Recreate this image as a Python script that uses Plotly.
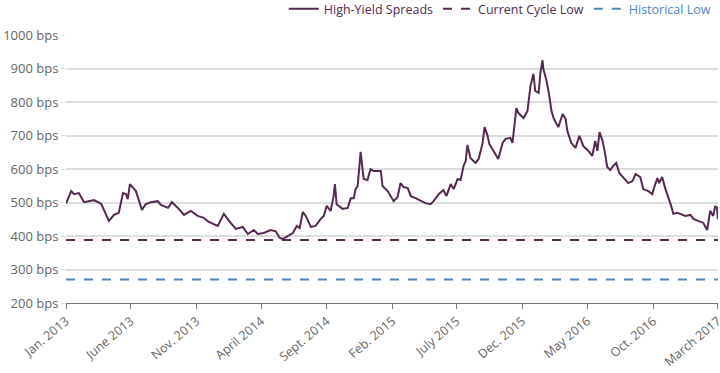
import plotly.graph_objects as go

dates = [
    "2013-01-01", "2013-01-13", "2013-01-20", "2013-01-31", "2013-02-12", "2013-03-07", "2013-03-24",
    "2013-04-11", "2013-04-23", "2013-05-04", "2013-05-14", "2013-05-21", "2013-05-25", "2013-05-30",
    "2013-06-13", "2013-06-27", "2013-07-06", "2013-07-18", "2013-08-03", "2013-08-10", "2013-08-27",
    "2013-09-05", "2013-09-21", "2013-10-03", "2013-10-19", "2013-11-04", "2013-11-18", "2013-11-30",
    "2013-12-21", "2014-01-04", "2014-01-20", "2014-02-01", "2014-02-17", "2014-03-01", "2014-03-15",
    "2014-03-24", "2014-04-07", "2014-04-23", "2014-05-05", "2014-05-14", "2014-05-21", "2014-06-02",
    "2014-06-14", "2014-06-23", "2014-06-30", "2014-07-07", "2014-07-14", "2014-07-26", "2014-08-06",
    "2014-08-18", "2014-08-25", "2014-09-01", "2014-09-10", "2014-09-17", "2014-09-20", "2014-09-24",
    "2014-10-08", "2014-10-20", "2014-10-27", "2014-11-03", "2014-11-07", "2014-11-12", "2014-11-19",
    "2014-11-26", "2014-12-05", "2014-12-12", "2014-12-19", "2014-12-29", "2015-01-05", "2015-01-09",
    "2015-01-21", "2015-02-04", "2015-02-13", "2015-02-20", "2015-02-27", "2015-03-09", "2015-03-16",
    "2015-03-27", "2015-04-08", "2015-04-19", "2015-05-01", "2015-05-08", "2015-05-20", "2015-05-31",
    "2015-06-07", "2015-06-17", "2015-06-24", "2015-07-03", "2015-07-10", "2015-07-17", "2015-07-22",
    "2015-07-26", "2015-08-02", "2015-08-14", "2015-08-21", "2015-08-30", "2015-09-04", "2015-09-11",
    "2015-09-15", "2015-09-25", "2015-10-06", "2015-10-16", "2015-10-23", "2015-11-03", "2015-11-08",
    "2015-11-13", "2015-11-17", "2015-11-22", "2015-11-29", "2015-12-04", "2015-12-13", "2015-12-15",
    "2015-12-20", "2015-12-27", "2015-12-31", "2016-01-08", "2016-01-12", "2016-01-17", "2016-01-19",
    "2016-01-26", "2016-01-31", "2016-02-07", "2016-02-12", "2016-02-19", "2016-02-23", "2016-03-04",
    "2016-03-11", "2016-03-15", "2016-03-24", "2016-04-03", "2016-04-12", "2016-04-21", "2016-05-03",
    "2016-05-12", "2016-05-19", "2016-05-24", "2016-05-29", "2016-06-05", "2016-06-09", "2016-06-16",
    "2016-06-23", "2016-06-30", "2016-07-07", "2016-07-14", "2016-07-24", "2016-08-04", "2016-08-14",
    "2016-08-21", "2016-09-01", "2016-09-08", "2016-09-20", "2016-09-29", "2016-10-06", "2016-10-11",
    "2016-10-15", "2016-10-22", "2016-10-29", "2016-11-05", "2016-11-12", "2016-11-17", "2016-11-26",
    "2016-12-03", "2016-12-15", "2016-12-27", "2017-01-03", "2017-01-14", "2017-01-26", "2017-02-04",
    "2017-02-11", "2017-02-18", "2017-02-23", "2017-02-27", "2017-03-01",
]
spreads = [
    497, 534, 525, 528, 501, 507, 496,
    445, 463, 469, 528, 525, 510, 555,
    534, 478, 495, 501, 504, 493, 484,
    501, 481, 463, 475, 460, 454, 442,
    430, 466, 439, 421, 427, 406, 418,
    406, 409, 418, 414, 395, 391, 400,
    409, 430, 424, 472, 460, 427, 430,
    451, 460, 490, 475, 519, 555, 495,
    481, 484, 513, 513, 540, 549, 651,
    570, 567, 600, 594, 594, 594, 549,
    534, 504, 516, 558, 546, 543, 519,
    513, 504, 498, 495, 504, 525, 537,
    519, 555, 540, 570, 567, 609, 624,
    672, 633, 618, 630, 675, 725, 699,
    675, 654, 630, 678, 690, 693, 678,
    734, 782, 767, 758, 752, 773, 797,
    848, 884, 833, 827, 884, 925, 899,
    866, 833, 773, 752, 734, 725, 764,
    749, 713, 678, 663, 699, 669, 654,
    639, 684, 654, 710, 684, 660, 606,
    597, 609, 618, 588, 573, 558, 564,
    585, 576, 540, 534, 525, 555, 573,
    558, 576, 543, 519, 490, 466, 469,
    466, 460, 463, 451, 445, 439, 418,
    475, 460, 490, 484, 451,
]

current_cycle_low = 388
historical_low = 270

tick_dates = ["2013-01-01", "2013-06-01", "2013-11-01", "2014-04-01", "2014-09-01", "2015-02-01",
              "2015-07-01", "2015-12-01", "2016-05-01", "2016-10-01", "2017-03-01"]
tick_labels = ["Jan. 2013", "June 2013", "Nov. 2013", "April 2014", "Sept. 2014", "Feb. 2015",
               "July 2015", "Dec. 2015", "May 2016", "Oct. 2016", "March 2017"]
y_ticks = [200, 300, 400, 500, 600, 700, 800, 900, 1000]
y_labels = [f"{v} bps" for v in y_ticks]

purple = "#542a50"
blue = "#4f86c6"

fig = go.Figure()
fig.add_trace(go.Scatter(
    x=dates, y=spreads, mode="lines",
    line=dict(color=purple, width=2),
    name=f"<span style='color:{purple}'>High-Yield Spreads</span>",
))
fig.add_trace(go.Scatter(
    x=[dates[0], dates[-1]], y=[current_cycle_low, current_cycle_low], mode="lines",
    line=dict(color=purple, width=2, dash="dash"),
    name=f"<span style='color:{purple}'>Current Cycle Low</span>",
))
fig.add_trace(go.Scatter(
    x=[dates[0], dates[-1]], y=[historical_low, historical_low], mode="lines",
    line=dict(color=blue, width=2, dash="dash"),
    name=f"<span style='color:{blue}'>Historical Low</span>",
))

fig.update_layout(
    width=720, height=373,
    margin=dict(l=66, r=2, t=35, b=70, autoexpand=False),
    paper_bgcolor="white", plot_bgcolor="white",
    font=dict(family="Open Sans", size=12, color="#666666"),
    showlegend=True,
    legend=dict(orientation="h", x=0.334, xanchor="left", y=1.097, yanchor="middle", yref="paper",
                font=dict(size=12.5), itemwidth=30, tracegroupgap=0,
                bgcolor="rgba(0,0,0,0)"),
    xaxis=dict(
        type="date", range=["2013-01-01", "2017-03-01 06:00"],
        tickvals=tick_dates, ticktext=tick_labels, tickangle=-40,
        showgrid=False, showline=True, linecolor="#777777", linewidth=1,
        ticks="outside", ticklen=5, tickcolor="#777777",
        tickfont=dict(size=12.5, color="#666666"), zeroline=False,
        automargin=False, ticklabeloverflow="allow",
    ),
    yaxis=dict(
        range=[200, 1000], tickvals=y_ticks, ticktext=y_labels,
        showgrid=True, gridcolor="#dddddd", gridwidth=1.5,
        ticks="outside", ticklen=4, tickcolor="#dddddd",
        showline=False, zeroline=False, automargin=False,
        tickfont=dict(size=13, color="#666666"),
    ),
)

fig.write_html("out.html", config={"displayModeBar": False},
               post_script="document.body.style.margin='0';")
